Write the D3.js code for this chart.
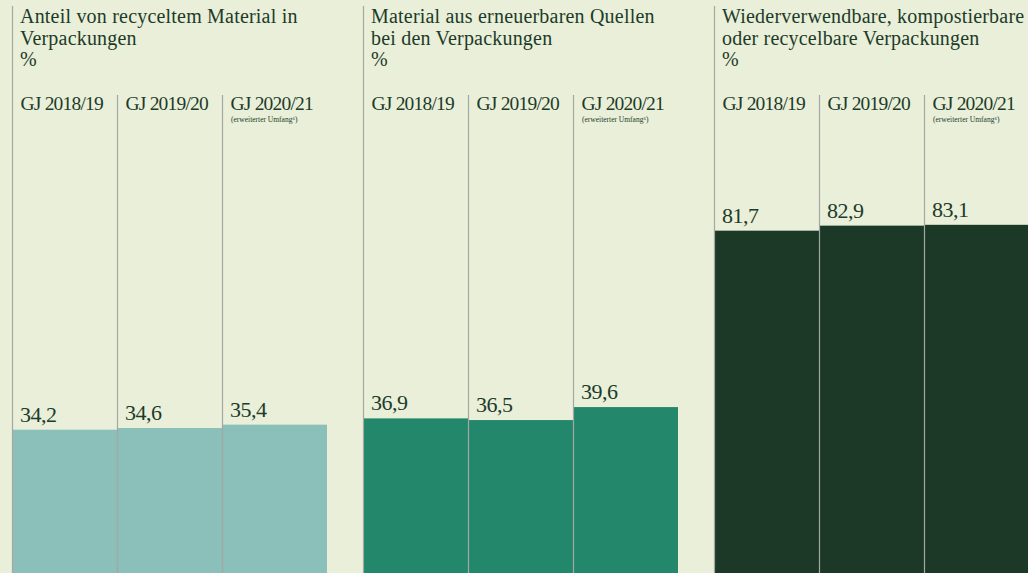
<!DOCTYPE html>
<html>
<head>
<meta charset="utf-8">
<script src="https://cdn.jsdelivr.net/npm/d3@7"></script>
<style>
  html, body { margin: 0; padding: 0; background: #e9efd9; }
  svg { display: block; }
  text { fill: #1d3b29; }
</style>
</head>
<body>
<div id="chartDiv"></div>
<script>
//--------------------------------------------------------------------------------
// values
var panelTitles = [
   ["Anteil von recyceltem Material in", "Verpackungen"],
   ["Material aus erneuerbaren Quellen", "bei den Verpackungen"],
   ["Wiederverwendbare, kompostierbare", "oder recycelbare Verpackungen"]
   ];
var unitLabel = "%";
var years = ["GJ 2018/19", "GJ 2019/20", "GJ 2020/21"];
var yearNotes = ["", "", "(erweiterter Umfang\u2076)"];

var recycledValues  = [34.2, 34.6, 35.4];
var renewableValues = [36.9, 36.5, 39.6];
var reusableValues  = [81.7, 82.9, 83.1];

var panelValues = [recycledValues, renewableValues, reusableValues];
var panelColors = ["#8bbfb9", "#23886b", "#1c3927"];
//--------------------------------------------------------------------------------
var width = 1028;
var height = 573;
var serifFonts = "'Liberation Serif', 'Times New Roman', Tinos, 'DejaVu Serif', 'Noto Serif', Georgia, serif";

var svg = d3.select("#chartDiv")
   .append("svg")
   .attr("width", width)
   .attr("height", height)
   .attr("font-family", serifFonts);

svg.append("rect")
   .attr("width", width)
   .attr("height", height)
   .attr("fill", "#e9efd9");

  // panels are 315 wide, 351 apart
var panelScale = d3.scaleBand()
   .domain(d3.range(panelValues.length))
   .range([12, 1029])
   .paddingInner(36 / 351)
   .paddingOuter(0);

var xScale = d3.scaleBand()
   .domain(years)
   .range([0, panelScale.bandwidth()])
   .padding(0);

var yScale = d3.scaleLinear()
   .domain([0, 100])
   .range([height, 154]);   // bars run off the bottom edge

var deFormat = d3.formatLocale({decimal: ",", thousands: ".", grouping: [3], currency: ["", " €"]})
   .format(".1f");

panelValues.forEach(function(values, p){

   var g = svg.append("g")
      .attr("transform", "translate(" + panelScale(p) + ",0)");

   g.selectAll("rect.bar")
      .data(values)
      .enter()
      .append("rect")
      .attr("class", "bar")
      .attr("x", function(d, i){ return xScale(years[i]); })
      .attr("y", function(d){ return yScale(d); })
      .attr("width", xScale.bandwidth())
      .attr("height", function(d){ return yScale(0) - yScale(d); })
      .attr("fill", panelColors[p]);

     // left rule of the panel, then separators between the years
   g.append("line")
      .attr("x1", 0.5).attr("x2", 0.5)
      .attr("y1", 6).attr("y2", height)
      .attr("stroke", "#a5a7a2")
      .attr("stroke-width", 1.2);

   g.selectAll("line.sep")
      .data(years.slice(1))
      .enter()
      .append("line")
      .attr("class", "sep")
      .attr("x1", function(d){ return Math.round(xScale(d)) + 0.5; })
      .attr("x2", function(d){ return Math.round(xScale(d)) + 0.5; })
      .attr("y1", 95).attr("y2", height)
      .attr("stroke", "#a5a7a2")
      .attr("stroke-width", 1.2);

   var title = g.append("text")
      .attr("x", 8)
      .attr("y", 23)
      .style("font-size", "20px")
      .style("letter-spacing", "0.2px");

   panelTitles[p].concat([unitLabel]).forEach(function(line, k){
      title.append("tspan")
         .attr("x", 8)
         .attr("dy", k == 0 ? 0 : 21.5)
         .text(line);
      });

   g.selectAll("text.year")
      .data(years)
      .enter()
      .append("text")
      .attr("class", "year")
      .attr("x", function(d){ return xScale(d) + 8.5; })
      .attr("y", 110)
      .style("font-size", "19.5px")
      .style("letter-spacing", "-0.8px")
      .text(function(d){ return d; });

   g.selectAll("text.note")
      .data(yearNotes)
      .enter()
      .append("text")
      .attr("class", "note")
      .attr("x", function(d, i){ return xScale(years[i]) + 9; })
      .attr("y", 122)
      .style("font-size", "7.5px")
      .text(function(d){ return d; });

   g.selectAll("text.value")
      .data(values)
      .enter()
      .append("text")
      .attr("class", "value")
      .attr("x", function(d, i){ return xScale(years[i]) + 8; })
      .attr("y", function(d){ return yScale(d) - 8; })
      .style("font-size", "22px")
      .style("letter-spacing", "-0.5px")
      .text(function(d){ return deFormat(d); });

   }); // forEach panel
//--------------------------------------------------------------------------------
</script>
</body>
</html>
